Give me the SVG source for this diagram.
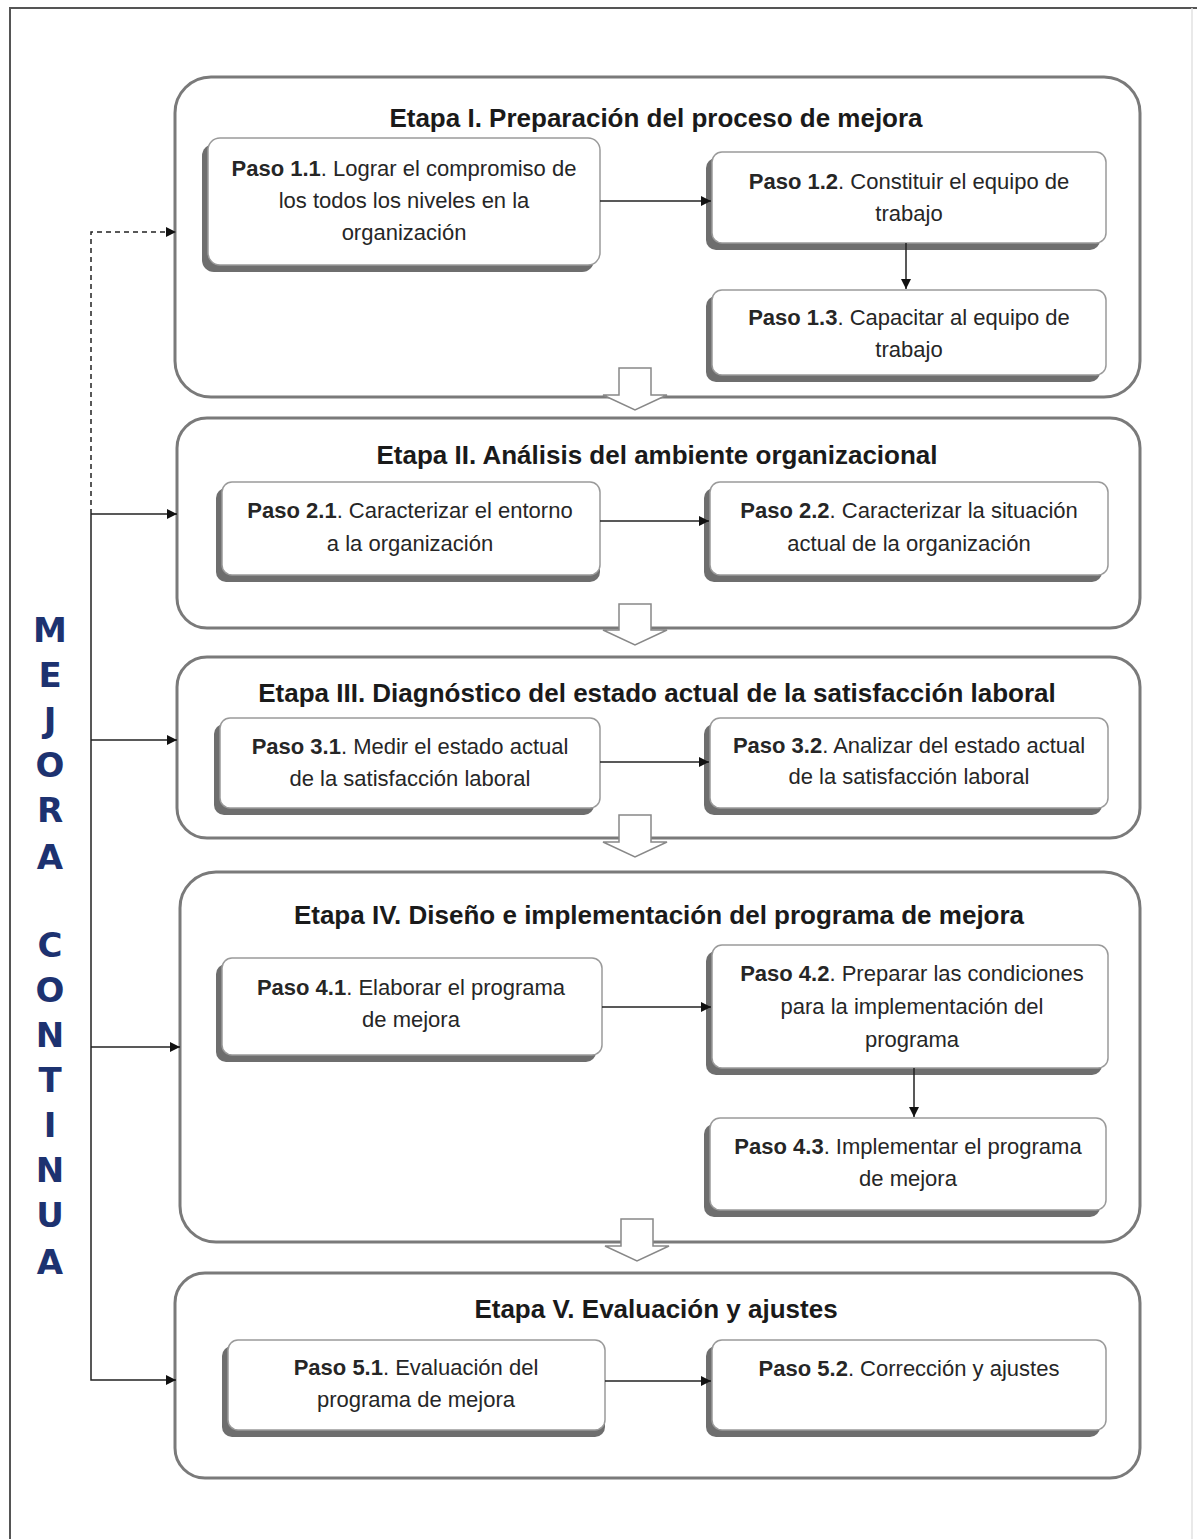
<svg xmlns="http://www.w3.org/2000/svg" width="1197" height="1539" viewBox="0 0 1197 1539">
<defs>
<marker id="ah" viewBox="0 0 10 10" refX="10" refY="5" markerWidth="10" markerHeight="10" markerUnits="userSpaceOnUse" orient="auto">
<path d="M0,0 L10,5 L0,10 z" fill="#111"/>
</marker>
</defs>
<style>
.frame{fill:none;stroke:#555;stroke-width:2}
.stage{fill:#fff;stroke:#7a7a7a;stroke-width:3}
.sh{fill:#6e6e6e}
.node{fill:#fff;stroke:#9a9a9a;stroke-width:1.5}
.title{font-family:"Liberation Sans Narrow","Arial Narrow","Liberation Sans",sans-serif;font-weight:bold;font-size:26px;fill:#1a1a1a;text-anchor:middle}
.t{font-family:"Liberation Sans Narrow","Arial Narrow","Liberation Sans",sans-serif;font-size:22px;fill:#262626;text-anchor:middle}
.b{font-weight:bold}
.con{fill:none;stroke:#222;stroke-width:1.5}
.dash{stroke-dasharray:5,4}
.hollow{fill:#fff;stroke:#888;stroke-width:1.5}
.side{font-family:"DejaVu Sans",Verdana,sans-serif;font-weight:bold;font-size:34px;fill:#1d3270;text-anchor:middle}
</style>
<rect width="1197" height="1539" fill="#fff"/>
<path class="frame" d="M10,1539 L10,8 L1197,8"/>
<line x1="1192" y1="8" x2="1192" y2="1539" stroke="#e2e2e2" stroke-width="1.5"/>

<g id="side-label">
<text class="side" x="50" y="642">M</text>
<text class="side" x="50" y="687">E</text>
<text class="side" x="50" y="732">J</text>
<text class="side" x="50" y="777">O</text>
<text class="side" x="50" y="822">R</text>
<text class="side" x="50" y="869">A</text>
<text class="side" x="50" y="957">C</text>
<text class="side" x="50" y="1002">O</text>
<text class="side" x="50" y="1047">N</text>
<text class="side" x="50" y="1092">T</text>
<text class="side" x="50" y="1137">I</text>
<text class="side" x="50" y="1182">N</text>
<text class="side" x="50" y="1227">U</text>
<text class="side" x="50" y="1274">A</text>
</g>

<g id="stage1">
<rect class="stage" x="175" y="77" width="965" height="320" rx="36"/>
<text class="title" x="656" y="127">Etapa I. Preparación del proceso de mejora</text>
</g>
<g id="stage2">
<rect class="stage" x="177" y="418" width="963" height="210" rx="30"/>
<text class="title" x="657" y="464">Etapa II. Análisis del ambiente organizacional</text>
</g>
<g id="stage3">
<rect class="stage" x="177" y="657" width="963" height="181" rx="30"/>
<text class="title" x="657" y="702">Etapa III. Diagnóstico del estado actual de la satisfacción laboral</text>
</g>
<g id="stage4">
<rect class="stage" x="180" y="872" width="960" height="370" rx="36"/>
<text class="title" x="659" y="924">Etapa IV. Diseño e implementación del programa de mejora</text>
</g>
<g id="stage5">
<rect class="stage" x="175" y="1273" width="965" height="205" rx="30"/>
<text class="title" x="656" y="1318">Etapa V. Evaluación y ajustes</text>
</g>

<g id="hollow-arrows">
<path class="hollow" d="M619,368 L651,368 L651,395 L667,395 L635,410 L603,395 L619,395 z"/>
<path class="hollow" d="M619,604 L651,604 L651,630 L667,630 L635,645 L603,630 L619,630 z"/>
<path class="hollow" d="M619,815 L651,815 L651,842 L667,842 L635,857 L603,842 L619,842 z"/>
<path class="hollow" d="M621,1219 L653,1219 L653,1246 L669,1246 L637,1261 L605,1246 L621,1246 z"/>
</g>

<g id="p11">
<rect class="sh" x="202" y="144" width="392" height="128" rx="12"/>
<rect class="node" x="208" y="138" width="392" height="127" rx="12"/>
<text class="t" x="404" y="176"><tspan class="b">Paso 1.1</tspan>. Lograr el compromiso de</text>
<text class="t" x="404" y="208">los todos los niveles en la</text>
<text class="t" x="404" y="240">organización</text>
</g>
<g id="p12">
<rect class="sh" x="706" y="158" width="394" height="92" rx="10"/>
<rect class="node" x="712" y="152" width="394" height="91" rx="10"/>
<text class="t" x="909" y="189"><tspan class="b">Paso 1.2</tspan>. Constituir el equipo de</text>
<text class="t" x="909" y="221">trabajo</text>
</g>
<g id="p13">
<rect class="sh" x="706" y="296" width="394" height="86" rx="10"/>
<rect class="node" x="712" y="290" width="394" height="85" rx="10"/>
<text class="t" x="909" y="325"><tspan class="b">Paso 1.3</tspan>. Capacitar al equipo de</text>
<text class="t" x="909" y="357">trabajo</text>
</g>

<g id="p21">
<rect class="sh" x="216" y="488" width="384" height="94" rx="10"/>
<rect class="node" x="222" y="482" width="378" height="93" rx="10"/>
<text class="t" x="410" y="518"><tspan class="b">Paso 2.1</tspan>. Caracterizar el entorno</text>
<text class="t" x="410" y="551">a la organización</text>
</g>
<g id="p22">
<rect class="sh" x="704" y="488" width="398" height="94" rx="10"/>
<rect class="node" x="710" y="482" width="398" height="93" rx="10"/>
<text class="t" x="909" y="518"><tspan class="b">Paso 2.2</tspan>. Caracterizar la situación</text>
<text class="t" x="909" y="551">actual de la organización</text>
</g>

<g id="p31">
<rect class="sh" x="214" y="724" width="380" height="91" rx="10"/>
<rect class="node" x="220" y="718" width="380" height="90" rx="10"/>
<text class="t" x="410" y="754"><tspan class="b">Paso 3.1</tspan>. Medir el estado actual</text>
<text class="t" x="410" y="786">de la satisfacción laboral</text>
</g>
<g id="p32">
<rect class="sh" x="704" y="724" width="398" height="91" rx="10"/>
<rect class="node" x="710" y="718" width="398" height="90" rx="10"/>
<text class="t" x="909" y="753"><tspan class="b">Paso 3.2</tspan>. Analizar del estado actual</text>
<text class="t" x="909" y="784">de la satisfacción laboral</text>
</g>

<g id="p41">
<rect class="sh" x="216" y="964" width="380" height="98" rx="10"/>
<rect class="node" x="222" y="958" width="380" height="97" rx="10"/>
<text class="t" x="411" y="995"><tspan class="b">Paso 4.1</tspan>. Elaborar el programa</text>
<text class="t" x="411" y="1027">de mejora</text>
</g>
<g id="p42">
<rect class="sh" x="706" y="951" width="396" height="124" rx="10"/>
<rect class="node" x="712" y="945" width="396" height="123" rx="10"/>
<text class="t" x="912" y="981"><tspan class="b">Paso 4.2</tspan>. Preparar las condiciones</text>
<text class="t" x="912" y="1014">para la implementación del</text>
<text class="t" x="912" y="1047">programa</text>
</g>
<g id="p43">
<rect class="sh" x="704" y="1124" width="396" height="93" rx="10"/>
<rect class="node" x="710" y="1118" width="396" height="92" rx="10"/>
<text class="t" x="908" y="1154"><tspan class="b">Paso 4.3</tspan>. Implementar el programa</text>
<text class="t" x="908" y="1186">de mejora</text>
</g>

<g id="p51">
<rect class="sh" x="222" y="1346" width="383" height="91" rx="10"/>
<rect class="node" x="228" y="1340" width="377" height="90" rx="10"/>
<text class="t" x="416" y="1375"><tspan class="b">Paso 5.1</tspan>. Evaluación del</text>
<text class="t" x="416" y="1407">programa de mejora</text>
</g>
<g id="p52">
<rect class="sh" x="706" y="1346" width="394" height="91" rx="10"/>
<rect class="node" x="712" y="1340" width="394" height="90" rx="10"/>
<text class="t" x="909" y="1376"><tspan class="b">Paso 5.2</tspan>. Corrección y ajustes</text>
</g>

<g id="connectors">
<line class="con" x1="600" y1="201" x2="711" y2="201" marker-end="url(#ah)"/>
<line class="con" x1="906" y1="243" x2="906" y2="289" marker-end="url(#ah)"/>
<line class="con" x1="600" y1="521" x2="709" y2="521" marker-end="url(#ah)"/>
<line class="con" x1="600" y1="762" x2="709" y2="762" marker-end="url(#ah)"/>
<line class="con" x1="602" y1="1007" x2="711" y2="1007" marker-end="url(#ah)"/>
<line class="con" x1="914" y1="1068" x2="914" y2="1117" marker-end="url(#ah)"/>
<line class="con" x1="605" y1="1381" x2="711" y2="1381" marker-end="url(#ah)"/>
<path class="con dash" d="M91,514 L91,232 L176,232" marker-end="url(#ah)"/>
<path class="con" d="M91,514 L91,1380 L176,1380" marker-end="url(#ah)"/>
<line class="con" x1="91" y1="514" x2="177" y2="514" marker-end="url(#ah)"/>
<line class="con" x1="91" y1="740" x2="177" y2="740" marker-end="url(#ah)"/>
<line class="con" x1="91" y1="1047" x2="180" y2="1047" marker-end="url(#ah)"/>
</g>
</svg>
